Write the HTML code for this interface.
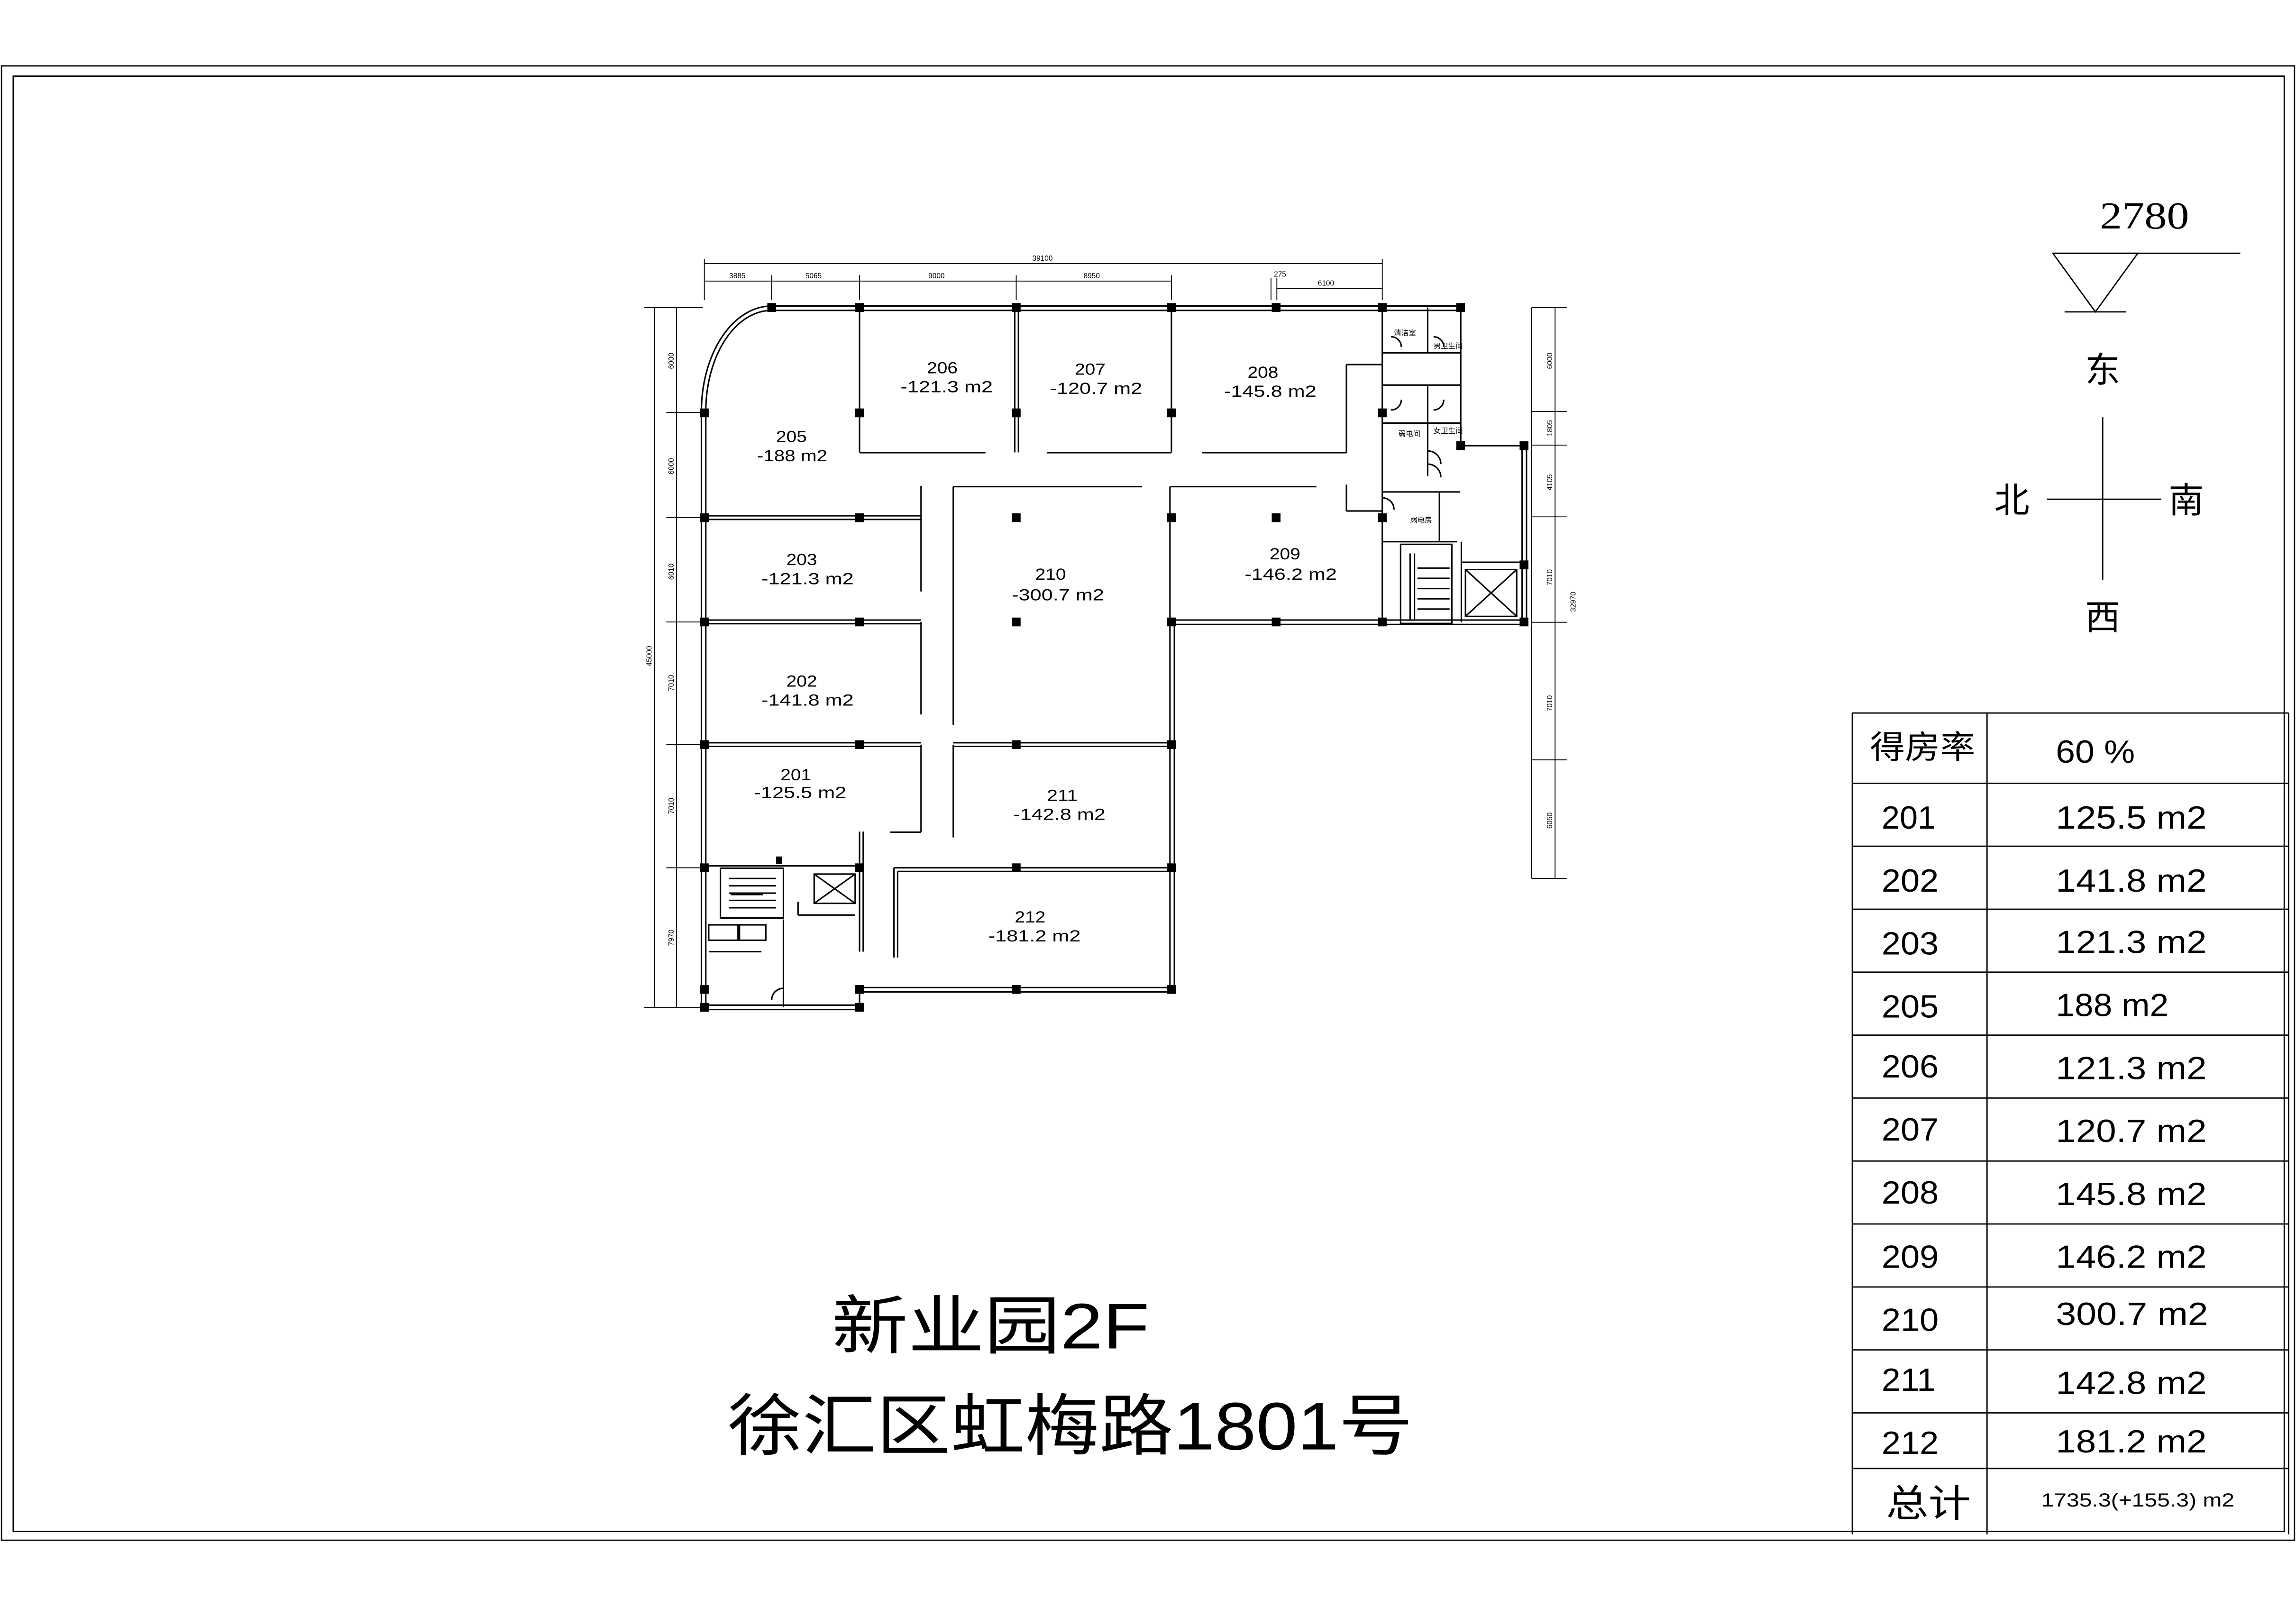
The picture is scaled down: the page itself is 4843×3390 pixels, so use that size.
<!DOCTYPE html>
<html><head><meta charset="utf-8"><style>
html,body{margin:0;padding:0;background:#fff;}
svg{display:block;}
text{font-family:"Liberation Sans","Noto Sans CJK SC",sans-serif;fill:#000;}
</style></head><body>
<svg width="4843" height="3390" viewBox="0 0 1568 1097.6" xmlns="http://www.w3.org/2000/svg">
<rect width="1568" height="1097.6" fill="#fff"/>
<g fill="none" stroke="#000" stroke-width="0.9">
<!-- frames -->
<rect x="1" y="45" width="1566" height="1007"/>
<rect x="9" y="52" width="1551" height="994"/>
</g>

<!-- floor plan walls -->
<g fill="none" stroke="#000" stroke-width="1">
<!-- top outer wall double -->
<line x1="527" y1="209" x2="998" y2="209"/><line x1="527" y1="212" x2="998" y2="212"/>
<!-- arc -->
<path d="M527 209 A48 72 0 0 0 479 281"/><path d="M527 212 A45 69 0 0 0 482 281"/>
<!-- left wall -->
<line x1="479" y1="281" x2="479" y2="688"/><line x1="482" y1="281" x2="482" y2="688"/>
<!-- bottom -->
<line x1="481" y1="686.5" x2="587" y2="686.5"/><line x1="481" y1="689.5" x2="587" y2="689.5"/>
<line x1="587" y1="675" x2="587" y2="688"/>
<line x1="587" y1="674.5" x2="800" y2="674.5"/><line x1="587" y1="677.5" x2="800" y2="677.5"/>
<!-- right of 211/212 -->
<line x1="799" y1="425" x2="799" y2="676"/><line x1="802" y1="425" x2="802" y2="676"/>
<!-- 209 bottom -->
<line x1="800" y1="423.5" x2="1041" y2="423.5"/><line x1="800" y1="426.5" x2="1041" y2="426.5"/>
<!-- right block -->
<line x1="1039.5" y1="304" x2="1039.5" y2="425"/><line x1="1042.5" y1="304" x2="1042.5" y2="425"/>
<line x1="998" y1="304.4" x2="1041" y2="304.4"/>
<line x1="997.6" y1="210" x2="997.6" y2="304"/>
<line x1="944" y1="210" x2="944" y2="425"/>
<!-- interior top rooms -->
<line x1="587" y1="210" x2="587" y2="309"/>
<line x1="693" y1="210" x2="693" y2="309"/><line x1="695.5" y1="210" x2="695.5" y2="309"/>
<line x1="800" y1="210" x2="800" y2="309"/>
<line x1="587" y1="309.2" x2="673" y2="309.2"/>
<line x1="715" y1="309.2" x2="800" y2="309.2"/>
<line x1="821" y1="309.2" x2="919.5" y2="309.2"/>
<line x1="919.5" y1="249" x2="919.5" y2="309.2"/>
<line x1="919.5" y1="249" x2="944" y2="249"/>
<!-- left rooms -->
<line x1="481" y1="352.3" x2="629" y2="352.3"/><line x1="481" y1="354.8" x2="629" y2="354.8"/>
<line x1="629" y1="331.8" x2="629" y2="404"/>
<line x1="481" y1="423.5" x2="629" y2="423.5"/><line x1="481" y1="426" x2="629" y2="426"/>
<line x1="629" y1="424.8" x2="629" y2="488"/>
<line x1="481" y1="507.3" x2="629" y2="507.3"/><line x1="481" y1="509.8" x2="629" y2="509.8"/>
<line x1="629" y1="508.6" x2="629" y2="568.4"/>
<line x1="608" y1="568.4" x2="629" y2="568.4"/>
<!-- 210 -->
<line x1="651" y1="332.4" x2="780" y2="332.4"/><line x1="651" y1="332.4" x2="651" y2="495"/>
<line x1="799" y1="332.4" x2="899" y2="332.4"/>
<line x1="799" y1="332.4" x2="799" y2="425"/>
<line x1="919.5" y1="331" x2="919.5" y2="349"/><line x1="919.5" y1="349" x2="944" y2="349"/>
<!-- 211 -->
<line x1="651" y1="507.3" x2="800" y2="507.3"/><line x1="651" y1="509.8" x2="800" y2="509.8"/>
<line x1="651" y1="508.6" x2="651" y2="572"/>
<!-- 212 -->
<line x1="610.5" y1="592.7" x2="800" y2="592.7"/><line x1="613" y1="595.2" x2="800" y2="595.2"/>
<line x1="610.5" y1="592.7" x2="610.5" y2="654"/><line x1="613" y1="595.2" x2="613" y2="654"/>
<!-- left stair block -->
<line x1="587" y1="568" x2="587" y2="650"/><line x1="589.5" y1="568" x2="589.5" y2="650"/>
<line x1="481" y1="591.4" x2="587" y2="591.4"/>
<rect x="492" y="593" width="43" height="34"/>
<line x1="498" y1="600" x2="530" y2="600"/><line x1="498" y1="605" x2="530" y2="605"/><line x1="498" y1="610" x2="530" y2="610"/><line x1="498" y1="615" x2="530" y2="615"/><line x1="498" y1="620" x2="530" y2="620"/>
<line x1="499" y1="611" x2="521" y2="611"/>
<rect x="556" y="597" width="28" height="20"/><line x1="556" y1="597" x2="584" y2="617"/><line x1="584" y1="597" x2="556" y2="617"/>
<line x1="535" y1="628" x2="535" y2="688"/>
<rect x="484" y="631.7" width="20" height="10.5"/><rect x="505" y="631.7" width="18" height="10.5"/>
<line x1="484" y1="650" x2="520" y2="650"/>
<line x1="545" y1="616" x2="545" y2="625"/><line x1="545" y1="625" x2="584" y2="625"/>
<path d="M527 683 A8 8 0 0 1 535 675"/>
<!-- right toilet block -->
<line x1="944" y1="241" x2="997" y2="241"/><line x1="944" y1="263" x2="997" y2="263"/>
<line x1="975" y1="210" x2="975" y2="241"/><line x1="975" y1="263" x2="975" y2="304"/>
<line x1="944" y1="289" x2="997" y2="289"/>
<line x1="944" y1="336" x2="997" y2="336"/>
<line x1="975" y1="304" x2="975" y2="325"/><path d="M975 308 A9 9 0 0 1 984 317 M975 317 A9 9 0 0 1 984 326"/>
<line x1="944" y1="370" x2="995" y2="370"/><line x1="983" y1="336" x2="983" y2="370"/>
<path d="M950 230 A7 7 0 0 1 957 237 M979 230 A7 7 0 0 1 986 237 M950 280 A7 7 0 0 0 957 273 M979 280 A7 7 0 0 0 986 273 M944 340 A8 8 0 0 1 952 348"/>
<rect x="956.5" y="371.8" width="35" height="54"/>
<line x1="963" y1="378" x2="963" y2="424"/><line x1="966" y1="378" x2="966" y2="424"/>
<line x1="968" y1="388" x2="990" y2="388"/><line x1="968" y1="395" x2="990" y2="395"/><line x1="968" y1="402" x2="990" y2="402"/><line x1="968" y1="409" x2="990" y2="409"/><line x1="968" y1="416" x2="990" y2="416"/>
<rect x="1000.8" y="389" width="35" height="32"/><line x1="1000.8" y1="389" x2="1035.8" y2="421"/><line x1="1035.8" y1="389" x2="1000.8" y2="421"/>
<line x1="998" y1="384" x2="1040" y2="384"/><line x1="998" y1="370" x2="998" y2="425"/>
</g>

<!-- columns -->
<g fill="#000">
<rect x="524" y="207" width="6" height="6"/><rect x="584" y="207" width="6" height="6"/><rect x="691" y="207" width="6" height="6"/><rect x="797" y="207" width="6" height="6"/><rect x="868.5" y="207" width="6" height="6"/><rect x="941" y="207" width="6" height="6"/><rect x="994.5" y="207" width="6" height="6"/>
<rect x="478" y="279" width="6" height="6"/><rect x="584" y="279" width="6" height="6"/><rect x="691" y="279" width="6" height="6"/><rect x="797" y="279" width="6" height="6"/><rect x="941" y="279" width="6" height="6"/>
<rect x="994.5" y="301.4" width="6" height="6"/><rect x="1037.8" y="301.4" width="6" height="6"/>
<rect x="478" y="350.6" width="6" height="6"/><rect x="584" y="350.6" width="6" height="6"/><rect x="691" y="350.6" width="6" height="6"/><rect x="797" y="350.6" width="6" height="6"/><rect x="868.5" y="350.6" width="6" height="6"/><rect x="941" y="350.6" width="6" height="6"/>
<rect x="1037.8" y="382.8" width="6" height="6"/>
<rect x="478" y="421.8" width="6" height="6"/><rect x="584" y="421.8" width="6" height="6"/><rect x="691" y="421.8" width="6" height="6"/><rect x="797" y="421.8" width="6" height="6"/><rect x="868.5" y="421.8" width="6" height="6"/><rect x="941" y="421.8" width="6" height="6"/><rect x="1037.8" y="421.8" width="6" height="6"/>
<rect x="478" y="505.6" width="6" height="6"/><rect x="584" y="505.6" width="6" height="6"/><rect x="691" y="505.6" width="6" height="6"/><rect x="797" y="505.6" width="6" height="6"/>
<rect x="478" y="589.7" width="6" height="6"/><rect x="584" y="589.7" width="6" height="6"/><rect x="691" y="589.7" width="6" height="6"/><rect x="797" y="589.7" width="6" height="6"/><rect x="530" y="585" width="4" height="5"/>
<rect x="478" y="672.8" width="6" height="6"/><rect x="584" y="672.8" width="6" height="6"/><rect x="691" y="672.8" width="6" height="6"/><rect x="797" y="672.8" width="6" height="6"/>
<rect x="478" y="685" width="6" height="6"/><rect x="584" y="685" width="6" height="6"/>
</g>

<!-- dimension lines -->
<g fill="none" stroke="#000" stroke-width="0.6">
<line x1="481" y1="180" x2="944" y2="180"/>
<line x1="481" y1="192" x2="800" y2="192"/>
<line x1="872" y1="197" x2="944" y2="197"/>
<line x1="481" y1="177" x2="481" y2="205"/><line x1="527" y1="188" x2="527" y2="205"/><line x1="587" y1="188" x2="587" y2="205"/><line x1="694" y1="188" x2="694" y2="205"/><line x1="800" y1="188" x2="800" y2="205"/><line x1="944" y1="177" x2="944" y2="205"/><line x1="868" y1="190" x2="868" y2="205"/><line x1="872" y1="190" x2="872" y2="205"/>
<line x1="447" y1="210" x2="447" y2="688"/><line x1="462" y1="210" x2="462" y2="688"/>
<line x1="440" y1="210" x2="480" y2="210"/><line x1="455" y1="281.8" x2="478" y2="281.8"/><line x1="455" y1="353.6" x2="478" y2="353.6"/><line x1="455" y1="424.8" x2="478" y2="424.8"/><line x1="455" y1="508.6" x2="478" y2="508.6"/><line x1="455" y1="592.7" x2="478" y2="592.7"/><line x1="440" y1="688" x2="478" y2="688"/>
<line x1="1062" y1="210" x2="1062" y2="600"/><line x1="1046" y1="210" x2="1046" y2="600"/>
<line x1="1046" y1="210" x2="1070" y2="210"/><line x1="1046" y1="281" x2="1070" y2="281"/><line x1="1046" y1="304" x2="1070" y2="304"/><line x1="1046" y1="353" x2="1070" y2="353"/><line x1="1046" y1="425" x2="1070" y2="425"/><line x1="1046" y1="519" x2="1070" y2="519"/><line x1="1046" y1="600" x2="1070" y2="600"/>
</g>
<g font-size="5">
<text x="705" y="178">39100</text>
<text x="498" y="190">3885</text><text x="550" y="190">5065</text><text x="634" y="190">9000</text><text x="740" y="190">8950</text>
<text x="870" y="189">275</text><text x="900" y="195">6100</text>
<text transform="translate(445,455) rotate(-90)">45000</text>
<text transform="translate(460,252) rotate(-90)">6000</text><text transform="translate(460,324) rotate(-90)">6000</text><text transform="translate(460,396) rotate(-90)">6010</text><text transform="translate(460,472) rotate(-90)">7010</text><text transform="translate(460,556) rotate(-90)">7010</text><text transform="translate(460,646) rotate(-90)">7970</text>
<text transform="translate(1060,252) rotate(-90)">6000</text><text transform="translate(1060,298) rotate(-90)">1805</text><text transform="translate(1060,335) rotate(-90)">4105</text><text transform="translate(1060,400) rotate(-90)">7010</text><text transform="translate(1076,418) rotate(-90)">32970</text><text transform="translate(1060,486) rotate(-90)">7010</text><text transform="translate(1060,566) rotate(-90)">6050</text>
<text x="952" y="229">清洁室</text><text x="979" y="238">男卫生间</text><text x="955" y="298">弱电间</text><text x="979" y="296">女卫生间</text><text x="963" y="357">弱电房</text>
</g>

<!-- room labels -->
<g font-size="11">
<text x="633" y="255" textLength="21" lengthAdjust="spacingAndGlyphs">206</text><text x="615" y="268" textLength="63" lengthAdjust="spacingAndGlyphs">-121.3 m2</text>
<text x="734" y="256" textLength="21" lengthAdjust="spacingAndGlyphs">207</text><text x="717" y="269" textLength="63" lengthAdjust="spacingAndGlyphs">-120.7 m2</text>
<text x="852" y="258" textLength="21" lengthAdjust="spacingAndGlyphs">208</text><text x="836" y="271" textLength="63" lengthAdjust="spacingAndGlyphs">-145.8 m2</text>
<text x="530" y="302" textLength="21" lengthAdjust="spacingAndGlyphs">205</text><text x="517" y="315" textLength="48" lengthAdjust="spacingAndGlyphs">-188 m2</text>
<text x="537" y="386" textLength="21" lengthAdjust="spacingAndGlyphs">203</text><text x="520" y="399" textLength="63" lengthAdjust="spacingAndGlyphs">-121.3 m2</text>
<text x="707" y="396" textLength="21" lengthAdjust="spacingAndGlyphs">210</text><text x="691" y="410" textLength="63" lengthAdjust="spacingAndGlyphs">-300.7 m2</text>
<text x="867" y="382" textLength="21" lengthAdjust="spacingAndGlyphs">209</text><text x="850" y="396" textLength="63" lengthAdjust="spacingAndGlyphs">-146.2 m2</text>
<text x="537" y="469" textLength="21" lengthAdjust="spacingAndGlyphs">202</text><text x="520" y="482" textLength="63" lengthAdjust="spacingAndGlyphs">-141.8 m2</text>
<text x="533" y="533" textLength="21" lengthAdjust="spacingAndGlyphs">201</text><text x="515" y="545" textLength="63" lengthAdjust="spacingAndGlyphs">-125.5 m2</text>
<text x="715" y="547" textLength="21" lengthAdjust="spacingAndGlyphs">211</text><text x="692" y="560" textLength="63" lengthAdjust="spacingAndGlyphs">-142.8 m2</text>
<text x="693" y="630" textLength="21" lengthAdjust="spacingAndGlyphs">212</text><text x="675" y="643" textLength="63" lengthAdjust="spacingAndGlyphs">-181.2 m2</text>
</g>

<!-- titles -->
<text x="568" y="921" font-size="44" textLength="217" lengthAdjust="spacingAndGlyphs">新业园2F</text>
<text x="497" y="990" font-size="46" textLength="468" lengthAdjust="spacingAndGlyphs">徐汇区虹梅路1801号</text>

<!-- elevation mark & compass -->
<text x="1434" y="156" font-size="26" font-family="Liberation Serif, serif" style="font-family:'Liberation Serif',serif" textLength="61" lengthAdjust="spacingAndGlyphs">2780</text>
<g fill="none" stroke="#000" stroke-width="0.9">
<line x1="1402" y1="173" x2="1530" y2="173"/>
<path d="M1402 173 L1460 173 L1431 213 Z"/>
<line x1="1410" y1="213" x2="1452" y2="213"/>
<line x1="1436" y1="285" x2="1436" y2="396"/>
<line x1="1398" y1="341" x2="1476" y2="341"/>
</g>
<g font-size="24">
<text x="1424" y="261">东</text>
<text x="1362" y="350">北</text>
<text x="1481" y="350">南</text>
<text x="1424" y="430">西</text>
</g>

<!-- table -->
<g fill="none" stroke="#000" stroke-width="0.9">
<line x1="1265" y1="487" x2="1265" y2="1048"/>
<line x1="1357" y1="487" x2="1357" y2="1048"/>
<line x1="1563" y1="487" x2="1563" y2="1048"/>
<line x1="1265" y1="487" x2="1563" y2="487"/>
<line x1="1265" y1="535" x2="1563" y2="535"/>
<line x1="1265" y1="578" x2="1563" y2="578"/>
<line x1="1265" y1="621" x2="1563" y2="621"/>
<line x1="1265" y1="664" x2="1563" y2="664"/>
<line x1="1265" y1="707" x2="1563" y2="707"/>
<line x1="1265" y1="750" x2="1563" y2="750"/>
<line x1="1265" y1="793" x2="1563" y2="793"/>
<line x1="1265" y1="836" x2="1563" y2="836"/>
<line x1="1265" y1="879" x2="1563" y2="879"/>
<line x1="1265" y1="922" x2="1563" y2="922"/>
<line x1="1265" y1="965" x2="1563" y2="965"/>
<line x1="1265" y1="1003" x2="1563" y2="1003"/>
</g>
<g font-size="22">
<text x="1277" y="518" textLength="72" lengthAdjust="spacingAndGlyphs">得房率</text>
<text x="1404" y="521" textLength="54" lengthAdjust="spacingAndGlyphs">60 %</text>
<text x="1285" y="566" textLength="37" lengthAdjust="spacingAndGlyphs">201</text><text x="1404" y="566" textLength="103" lengthAdjust="spacingAndGlyphs">125.5 m2</text>
<text x="1285" y="609" textLength="39" lengthAdjust="spacingAndGlyphs">202</text><text x="1404" y="609" textLength="103" lengthAdjust="spacingAndGlyphs">141.8 m2</text>
<text x="1285" y="652" textLength="39" lengthAdjust="spacingAndGlyphs">203</text><text x="1404" y="651" textLength="103" lengthAdjust="spacingAndGlyphs">121.3 m2</text>
<text x="1285" y="695" textLength="39" lengthAdjust="spacingAndGlyphs">205</text><text x="1404" y="694" textLength="77" lengthAdjust="spacingAndGlyphs">188 m2</text>
<text x="1285" y="736" textLength="39" lengthAdjust="spacingAndGlyphs">206</text><text x="1404" y="737" textLength="103" lengthAdjust="spacingAndGlyphs">121.3 m2</text>
<text x="1285" y="779" textLength="39" lengthAdjust="spacingAndGlyphs">207</text><text x="1404" y="780" textLength="103" lengthAdjust="spacingAndGlyphs">120.7 m2</text>
<text x="1285" y="822" textLength="39" lengthAdjust="spacingAndGlyphs">208</text><text x="1404" y="823" textLength="103" lengthAdjust="spacingAndGlyphs">145.8 m2</text>
<text x="1285" y="866" textLength="39" lengthAdjust="spacingAndGlyphs">209</text><text x="1404" y="866" textLength="103" lengthAdjust="spacingAndGlyphs">146.2 m2</text>
<text x="1285" y="909" textLength="39" lengthAdjust="spacingAndGlyphs">210</text><text x="1404" y="905" textLength="104" lengthAdjust="spacingAndGlyphs">300.7 m2</text>
<text x="1285" y="950" textLength="37" lengthAdjust="spacingAndGlyphs">211</text><text x="1404" y="952" textLength="103" lengthAdjust="spacingAndGlyphs">142.8 m2</text>
<text x="1285" y="993" textLength="39" lengthAdjust="spacingAndGlyphs">212</text><text x="1404" y="992" textLength="103" lengthAdjust="spacingAndGlyphs">181.2 m2</text>
<text x="1288" y="1036" font-size="26" textLength="58" lengthAdjust="spacingAndGlyphs">总计</text>
</g>
<text x="1394" y="1029" font-size="13" textLength="132" lengthAdjust="spacingAndGlyphs">1735.3(+155.3) m2</text>
</svg>
</body></html>
